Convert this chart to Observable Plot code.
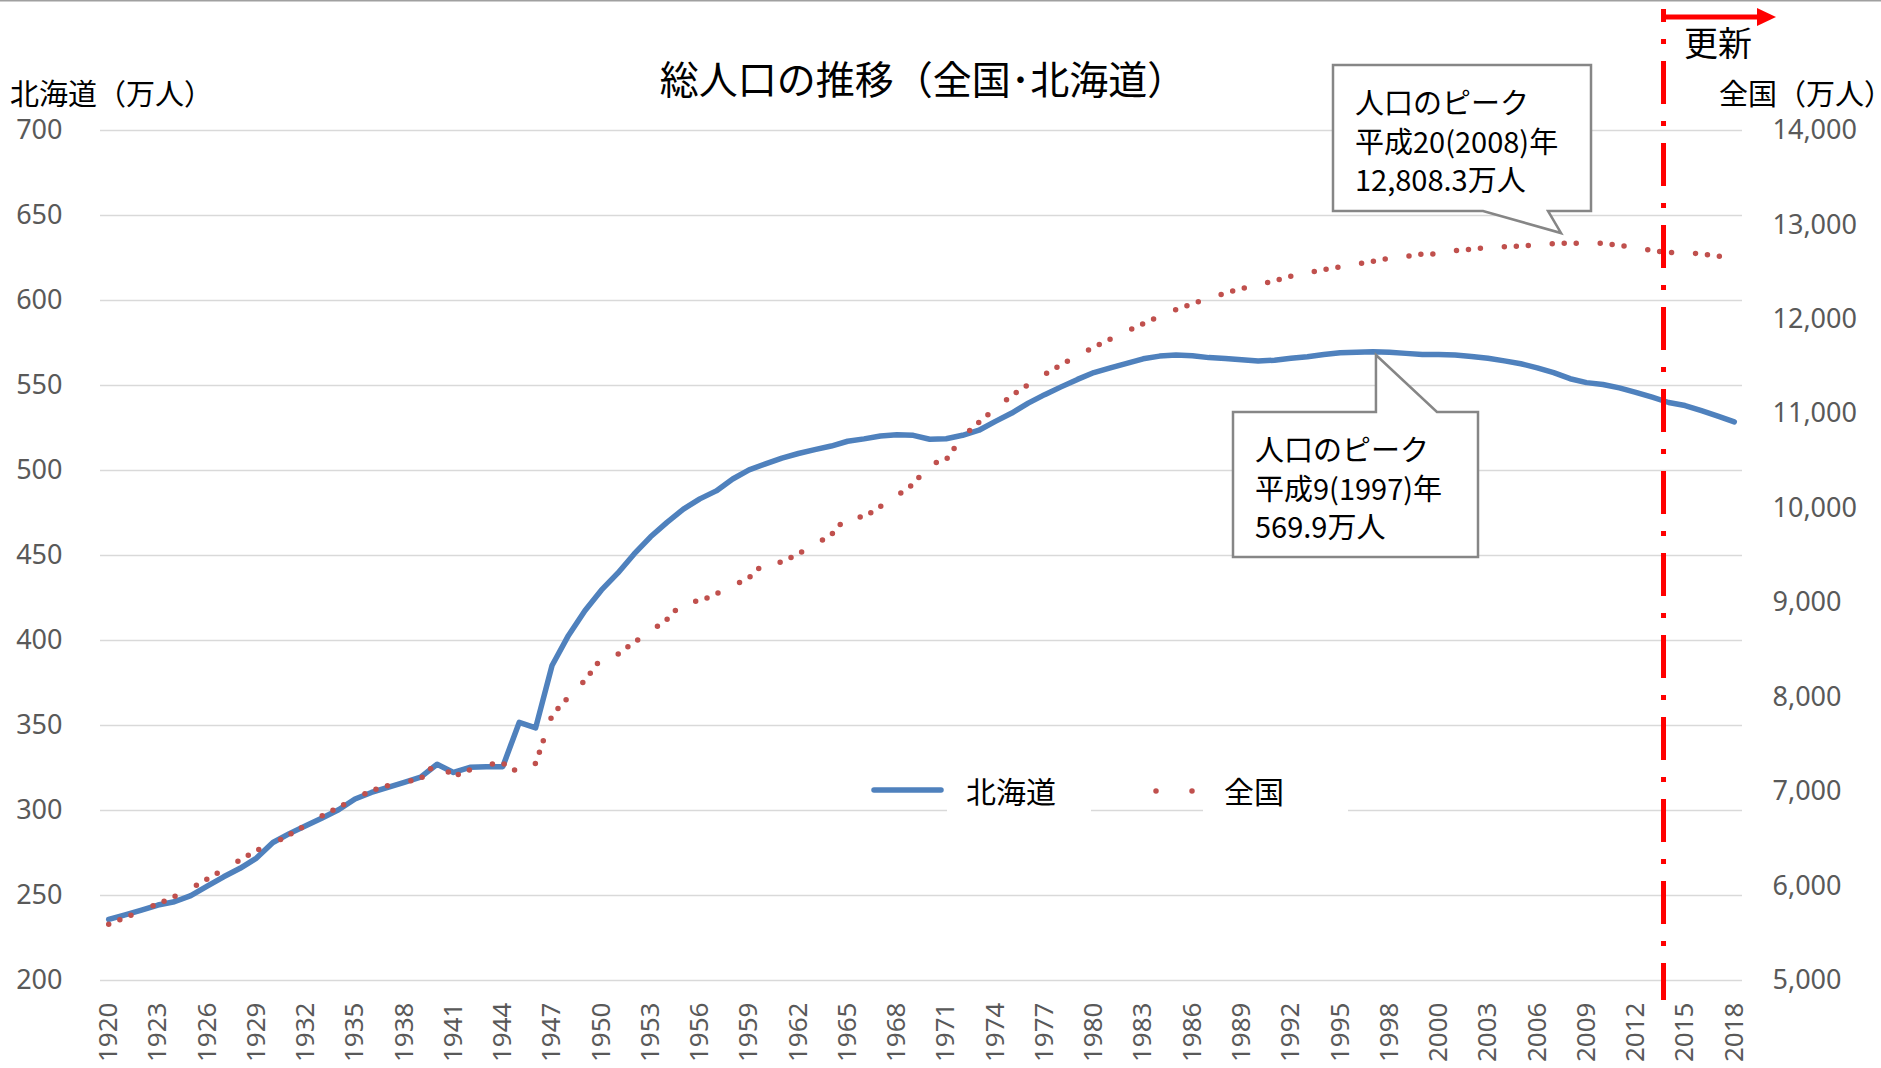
<!DOCTYPE html>
<html><head><meta charset="utf-8">
<script src="https://cdn.jsdelivr.net/npm/d3@7"></script>
<script src="https://cdn.jsdelivr.net/npm/@observablehq/plot@0.6"></script>
<style>
html,body{margin:0;padding:0;background:#fff;}
#chart{width:1881px;height:1068px;overflow:hidden;}
.halt{font-feature-settings:"halt";}
</style></head><body><div id="chart"></div>
<script>
// ---- data ----
const years = ["1920","1921","1922","1923","1924","1925","1926","1927","1928","1929",
"1930","1931","1932","1933","1934","1935","1936","1937","1938","1939",
"1940","1941","1942","1943","1944","1945","1946","1947","1948","1949",
"1950","1951","1952","1953","1954","1955","1956","1957","1958","1959",
"1960","1961","1962","1963","1964","1965","1966","1967","1968","1969",
"1970","1971","1972","1973","1974","1975","1976","1977","1978","1979",
"1980","1981","1982","1983","1984","1985","1986","1987","1988","1989",
"1990","1991","1992","1993","1994","1995","1996","1997","1998","1999",
"2000","2000","2001","2002","2003","2004","2005","2006","2007","2008",
"2009","2010","2011","2012","2013","2014","2015","2016","2017","2018"];
// 北海道 (万人)
const hokkaido = [235.9,238.6,241.4,244.4,246.3,249.9,255.5,261.0,266.0,272.0,
281.2,286.4,291.0,295.6,300.4,306.8,310.6,313.6,316.6,319.6,
327.2,322.4,325.4,325.7,325.8,351.8,348.6,385.3,403.0,417.5,
429.6,439.6,450.9,461.0,469.5,477.3,483.3,488.0,495.0,500.4,
503.9,507.3,510.0,512.3,514.4,517.2,518.6,520.3,521.0,520.7,
518.4,518.7,520.7,523.7,528.9,533.8,539.6,544.6,549.2,553.6,
557.6,560.4,563.0,565.7,567.3,567.9,567.5,566.4,565.9,565.1,
564.4,564.9,566.0,566.9,568.2,569.2,569.6,569.9,569.6,568.9,
568.3,568.3,567.9,567.1,566.0,564.5,562.8,560.4,557.6,554.0,
551.7,550.6,548.6,546.0,543.1,540.0,538.2,535.2,532.0,528.6];
// 全国 (万人)
const zenkoku = [5596,5666,5739,5812,5888,5974,6074,6174,6276,6379,
6445,6545,6643,6745,6831,6925,7011,7063,7101,7138,
7311,7160,7230,7290,7300,7200,7300,7810,8000,8177,
8411,8454,8581,8698,8824,9008,9017,9093,9177,9264,
9430,9429,9518,9616,9718,9921,9904,10020,10133,10254,
10467,10514,10760,10910,11057,11194,11309,11417,11519,11616,
11706,11790,11873,11954,12031,12105,12166,12224,12278,12326,
12361,12410,12457,12494,12527,12557,12586,12616,12647,12667,
12693,12693,12729,12744,12762,12769,12777,12790,12803,12808,
12803,12806,12783,12759,12730,12708,12709,12693,12671,12644];
const leftTicks = [200,250,300,350,400,450,500,550,600,650,700];
const rightTicks = [5000,6000,7000,8000,9000,10000,11000,12000,13000,14000];
const xTickIdx = d3.range(0, years.length, 3);
const peakHokkaidoIdx = 77;   // 1997
const peakZenkokuIdx = 89;    // 2008
const updateIdx = 94.72;      // between 2013 and 2014

// right axis (全国) mapped onto left axis (北海道) units
const toLeft = v => 200 + (v - 5000) / 18;
const toRight = l => 5000 + (l - 200) * 18;

const rows = years.map((y, i) => ({i, year: y, hk: hokkaido[i], zl: toLeft(zenkoku[i])}));

const JP = "'Noto Sans CJK JP', 'Noto Sans', sans-serif";
const W = 1881, H = 1068;

const plot = Plot.plot({
  width: W, height: H,
  marginLeft: 100, marginRight: 139, marginTop: 130, marginBottom: 88,
  x: {type: "linear", domain: [-0.5, 99.5]},
  y: {type: "linear", domain: [200, 700]},
  style: {fontFamily: "'Noto Sans', sans-serif", background: "#fff", overflow: "visible"},
  marks: [
    Plot.gridY(leftTicks, {stroke: "#d9d9d9", strokeOpacity: 1, strokeWidth: 1.5}),
    Plot.axisY(leftTicks, {anchor: "left", tickSize: 0, tickPadding: 38, fontSize: 27, color: "#595959", label: null}),
    Plot.axisY(rightTicks.map(toLeft), {anchor: "right", tickSize: 0, tickPadding: 30, fontSize: 27, color: "#595959", label: null,
      tickFormat: d => d3.format(",")(Math.round(toRight(d)))}),
    Plot.axisX(xTickIdx, {anchor: "bottom", tickSize: 0, tickPadding: 22, tickRotate: -90, fontSize: 26, color: "#595959", label: null,
      tickFormat: i => years[i]}),
    Plot.line(rows, {x: "i", y: "hk", stroke: "#4F81BD", strokeWidth: 5.5, strokeLinejoin: "round", strokeLinecap: "round"}),
    Plot.line(rows, {x: "i", y: "zl", stroke: "#C0504D", strokeWidth: 5.5, strokeDasharray: "0 12 0 12 0 24", strokeLinecap: "round"})
  ]
});
document.getElementById("chart").appendChild(plot);

const sx = plot.scale("x"), sy = plot.scale("y");
const svg = d3.select(plot);
const g = svg.append("g");

// top border
g.append("line").attr("x1", 0).attr("x2", W).attr("y1", 0.75).attr("y2", 0.75)
  .attr("stroke", "#a0a0a0").attr("stroke-width", 1.5);

function txt(s, x, y, size, anchor = "start") {
  return g.append("text").attr("x", x).attr("y", y).attr("font-size", size)
    .attr("font-family", JP).attr("fill", "#000").attr("text-anchor", anchor)
    .attr("dominant-baseline", "central").text(s);
}

// titles
txt("総人口の推移（全国･北海道）", 923, 77, 39, "middle");
txt("北海道（万人）", 10, 92, 29);
const rt = txt("全国（万人", 1719, 92, 29);
rt.append("tspan").attr("class", "halt").text("）");

// update line & arrow
const ux = sx.apply(updateIdx);
g.append("line").attr("x1", ux).attr("x2", ux).attr("y1", 9).attr("y2", 1000)
  .attr("stroke", "#FF0000").attr("stroke-width", 5)
  .attr("stroke-dasharray", "43 17 5 17").attr("stroke-dashoffset", 30);
g.append("line").attr("x1", ux).attr("x2", 1760).attr("y1", 17).attr("y2", 17)
  .attr("stroke", "#FF0000").attr("stroke-width", 5);
g.append("path").attr("d", `M1757,8 L1776,17 L1757,26 Z`).attr("fill", "#FF0000");
txt("更新", 1684, 41, 34);

// callouts
function callout(box, tail, tip, lines, side) {
  const {L, T, R, B} = box;
  let d;
  if (side === "bottom") {
    d = `M${L},${T} H${R} V${B} H${tail[1]} L${tip[0]},${tip[1]} L${tail[0]},${B} H${L} Z`;
  } else {
    d = `M${L},${T} H${tail[0]} L${tip[0]},${tip[1]} L${tail[1]},${T} H${R} V${B} H${L} Z`;
  }
  g.append("path").attr("d", d).attr("fill", "#fff").attr("stroke", "#868686").attr("stroke-width", 2.5)
    .attr("stroke-linejoin", "miter");
  lines.forEach((s, k) => txt(s, L + 22, T + 36 + k * 38.5, 29));
}
const zTip = [sx.apply(peakZenkokuIdx) - 8.5, sy.apply(toLeft(zenkoku[peakZenkokuIdx])) - 9.5];
callout({L: 1333, T: 65, R: 1591, B: 211}, [1483, 1548], zTip,
  ["人口のピーク", "平成20(2008)年", "12,808.3万人"], "bottom");
const hTip = [sx.apply(peakHokkaidoIdx) + 3.4, sy.apply(hokkaido[peakHokkaidoIdx]) + 3.8];
callout({L: 1233, T: 412, R: 1478, B: 557}, [hTip[0], hTip[0] + 61], hTip,
  ["人口のピーク", "平成9(1997)年", "569.9万人"], "top");

// legend
g.append("rect").attr("x", 947).attr("y", 768).attr("width", 144).attr("height", 47).attr("fill", "#fff");
g.append("rect").attr("x", 1203).attr("y", 768).attr("width", 145).attr("height", 47).attr("fill", "#fff");
g.append("line").attr("x1", 874).attr("x2", 941).attr("y1", 790).attr("y2", 790)
  .attr("stroke", "#4F81BD").attr("stroke-width", 5.5).attr("stroke-linecap", "round");
txt("北海道", 966, 790, 30);
g.append("line").attr("x1", 1156).attr("x2", 1193).attr("y1", 791).attr("y2", 791)
  .attr("stroke", "#C0504D").attr("stroke-width", 5.5).attr("stroke-linecap", "round")
  .attr("stroke-dasharray", "0 36");
txt("全国", 1224, 790, 30);
</script>
</body></html>
